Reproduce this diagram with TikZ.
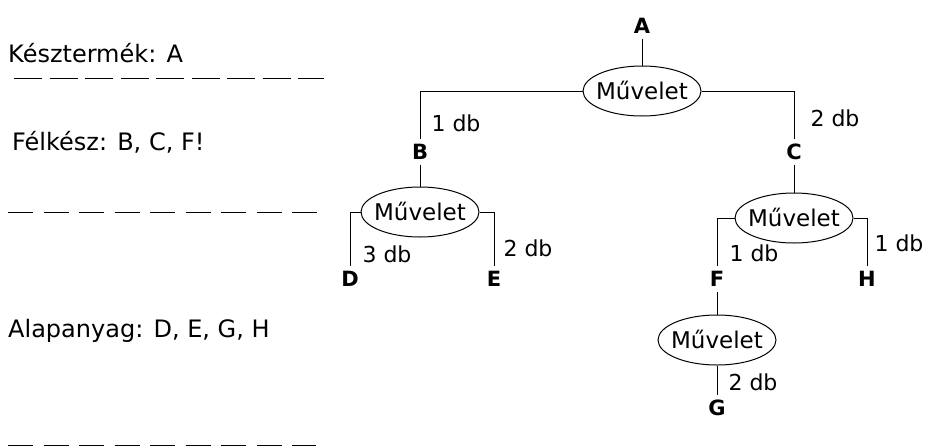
\documentclass[tikz,border=0pt]{standalone}
\usepackage{fontspec}
\setmainfont{DejaVu Sans}
\usetikzlibrary{shapes.geometric}
\newcommand{\opname}{\makebox[0pt]{\smash{Művelet}}\vphantom{M}}
\begin{document}
\begin{tikzpicture}[x=1pt,y=-1pt,
  conn/.style={draw=black, line width=1pt},
  opbox/.style={ellipse, draw=black, line width=1pt, inner sep=0pt, minimum width=118pt, minimum height=50pt, font=\fontsize{23}{27}\selectfont},
  item/.style={font=\fontsize{21}{25}\selectfont\bfseries, inner sep=0pt, outer sep=5pt},
  qty/.style={font=\fontsize{22}{26}\selectfont, inner sep=0pt},
  level/.style={font=\fontsize{24}{29}\selectfont, inner sep=0pt, anchor=base west},
  septop/.style={draw=black, line width=1pt, dash pattern=on 28pt off 7.5pt},
  sep/.style={draw=black, line width=1pt, dash pattern=on 25pt off 10.5pt}]
\fill[white] (0,0) rectangle (925,447);
\useasboundingbox (0,0) rectangle (925,447);

% level texts and separators
\node[level] (lk) at (8,62) {Késztermék: A};
\node[level] (lf) at (12,150) {Félkész: B, C, F!};
\node[level] (la) at (8,337) {Alapanyag: D, E, G, H};
\coordinate (s1a) at (14,78);  \coordinate (s1b) at (324,78);
\coordinate (s2a) at (8,212);  \coordinate (s2b) at (322,212);
\coordinate (s3a) at (8,445);  \coordinate (s3b) at (316,445);
\draw[septop] (s1a) -- (s1b);
\draw[sep] (s2a) -- (s2b);
\draw[sep] (s3a) -- (s3b);

% tree
\node[item] (A) at (642,26) {A};
\node[opbox] (o1) at (642,91) {\opname};
\node[item] (B) at (420,152) {B};
\node[item] (C) at (794,152) {C};
\node[opbox] (o2) at (420,212) {\opname};
\node[opbox] (o3) at (794,218) {\opname};
\node[item] (D) at (350,279) {D};
\node[item] (E) at (494,279) {E};
\node[item] (F) at (717,279) {F};
\node[item] (H) at (867,279) {H};
\node[opbox] (o4) at (717,340) {\opname};
\node[item] (G) at (717,408) {G};

% quantities
\node[qty] (q1) at (456,123) {1 db};
\node[qty] (q2) at (835,118) {2 db};
\node[qty] (q3) at (387,254) {3 db};
\node[qty] (q4) at (528,248) {2 db};
\node[qty] (q5) at (754,253) {1 db};
\node[qty] (q6) at (899,243) {1 db};
\node[qty] (q7) at (753,382) {2 db};

% connectors
\draw[conn] (A) -- (o1);
\draw[conn] (o1.west) -| (B.north);
\draw[conn] (o1.east) -| (C.north);
\draw[conn] (B) -- (o2);
\draw[conn] (C) -- (o3);
\draw[conn] (o2.west) -| (D.north);
\draw[conn] (o2.east) -| (E.north);
\draw[conn] (o3.west) -| (F.north);
\draw[conn] (o3.east) -| (H.north);
\draw[conn] (F) -- (o4);
\draw[conn] (o4) -- (G);
\end{tikzpicture}
\end{document}
